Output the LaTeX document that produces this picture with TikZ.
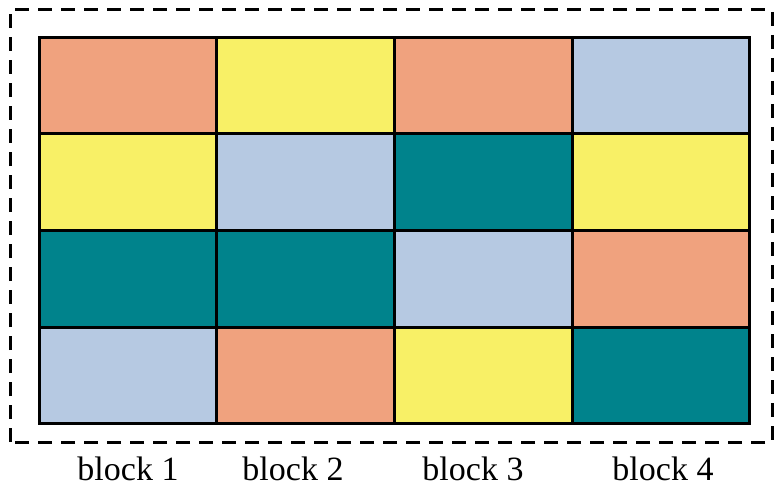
\documentclass[tikz,border=0pt]{standalone}
\usepackage{fontspec}
\setmainfont{Liberation Serif}
\definecolor{salmon}{RGB}{240,162,126}
\definecolor{lemon}{RGB}{248,240,102}
\definecolor{skyb}{RGB}{182,201,226}
\definecolor{tealc}{RGB}{0,131,140}
\tikzset{
  cell/.style={draw=black, line width=3pt},
  frame/.style={draw=black, line width=3pt, dash pattern=on 14pt off 9pt},
  blocklabel/.style={font=\fontsize{34}{38}\selectfont, anchor=base}
}
\begin{document}
\begin{tikzpicture}[x=1pt,y=-1pt]
  \useasboundingbox (0,0) rectangle (775,489);
  % outer dashed frame
  \draw[frame] (10,442) -- (10,10) -- (772,10) -- (772,442) -- cycle;
  % colour grid: columns left to right, rows top to bottom
  \def\xs{{39,216,394,572,749}}
  \def\ys{{38,134,230,327,423}}
  \foreach \row [count=\r from 0] in {{salmon,lemon,salmon,skyb},
                       {lemon,skyb,tealc,lemon},
                       {tealc,tealc,skyb,salmon},
                       {skyb,salmon,lemon,tealc}}{
    \foreach \col [count=\c from 0] in \row {
      \pgfmathsetmacro{\xa}{\xs[\c]}
      \pgfmathsetmacro{\xb}{\xs[\c+1]}
      \pgfmathsetmacro{\ya}{\ys[\r]}
      \pgfmathsetmacro{\yb}{\ys[\r+1]}
      \fill[\col] (\xa,\ya) rectangle (\xb,\yb);
    }
  }
  \foreach \x in {39,216,394,572,749} \draw[cell] (\x,38) -- (\x,423);
  \foreach \y in {38,134,230,327,423} \draw[cell, line cap=rect] (39,\y) -- (749,\y);
  % block labels
  \node[blocklabel] (b1) at (128,480) {block 1};
  \node[blocklabel] (b2) at (293,480) {block 2};
  \node[blocklabel] (b3) at (473,480) {block 3};
  \node[blocklabel] (b4) at (663,480) {block 4};
\end{tikzpicture}
\end{document}
